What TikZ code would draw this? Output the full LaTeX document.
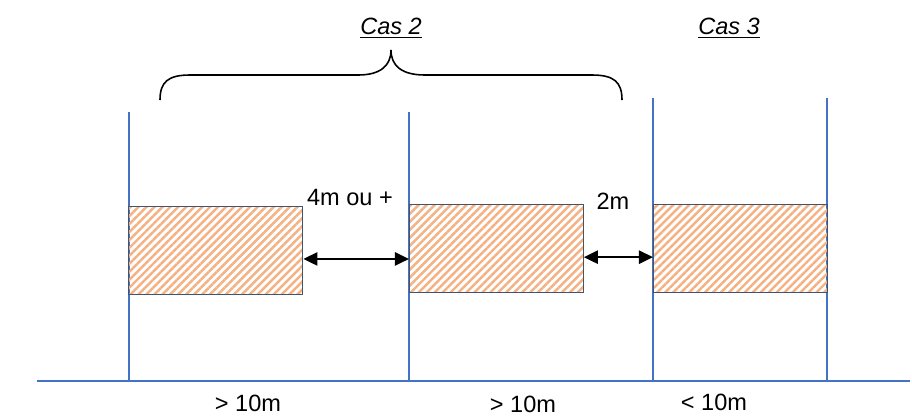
\documentclass[tikz,border=0pt]{standalone}
\usepackage{fontspec}
\setmainfont{Liberation Sans}
\usetikzlibrary{patterns.meta,arrows.meta}

\definecolor{postblue}{HTML}{4472C4}
\definecolor{hatchorange}{HTML}{F4B183}
\definecolor{boxedge}{HTML}{44546A}

\tikzset{
  lot/.style={draw=boxedge, line width=0.5pt, minimum width=99pt, minimum height=50pt,
    inner sep=0pt, pattern={Lines[angle=45, distance=3.2pt, line width=1.4pt]}, pattern color=hatchorange},
  post/.style={draw=postblue, line width=0.8pt},
  gap/.style={{Triangle[length=8pt,width=7.5pt]}-{Triangle[length=8pt,width=7.5pt]}, line width=1.2pt},
  lbl/.style={font=\fontsize{13.4}{16}\selectfont, inner sep=1pt}
}

\begin{document}
\begin{tikzpicture}[x=0.02cm, y=-0.02cm]
        \useasboundingbox (0,0) rectangle (912,417);

        % ground and posts
        \coordinate (G1) at (37,381);
        \coordinate (G2) at (910,381);
        \draw[post] (G1) -- (G2);
        \coordinate (P1) at (129,112);
        \coordinate (P2) at (409,112);
        \coordinate (P3) at (653,98);
        \coordinate (P4) at (827,98);
        \foreach \p in {P1,P2,P3,P4}
            \draw[post] (\p) -- (\p |- G1);

        % hatched lots
        \node (L1) [lot, anchor=north west] at (127,205) {};
        \node (L2) [lot, anchor=north west] at (409,204) {};
        \node (L3) [lot, anchor=north west] at (653,204) {};

        \draw[gap] ([yshift=-5pt]L1.east) -- ([yshift=-5pt]L1.east -| L2.west);
        \draw[gap] ([yshift=-5pt]L2.east) -- ([yshift=-5pt]L2.east -| L3.west);

        \node (D1) [lbl] at (350,198) {4m ou +};
        \node (D2) [lbl] at (613,201) {2m};

        % brace over cas 2
        \draw[line width=0.9pt] (160,100) .. controls (160,82) and (168,75) .. (190,75) -- (358,75)
            .. controls (380,75) and (391,66) .. (391,50)
            .. controls (391,66) and (402,75) .. (425,75) -- (592,75)
            .. controls (614,75) and (622,82) .. (622,100);

        \node (C2) [lbl] at (391,28) {\underline{\textit{Cas 2}}};
        \node (C3) [lbl] at (729,28) {\underline{\textit{Cas 3}}};

        \node (W1) [lbl] at (248,403) {> 10m};
        \node (W2) [lbl] at (523,404) {> 10m};
        \node (W3) [lbl] at (714,402) {< 10m};
    \end{tikzpicture}
\end{document}
